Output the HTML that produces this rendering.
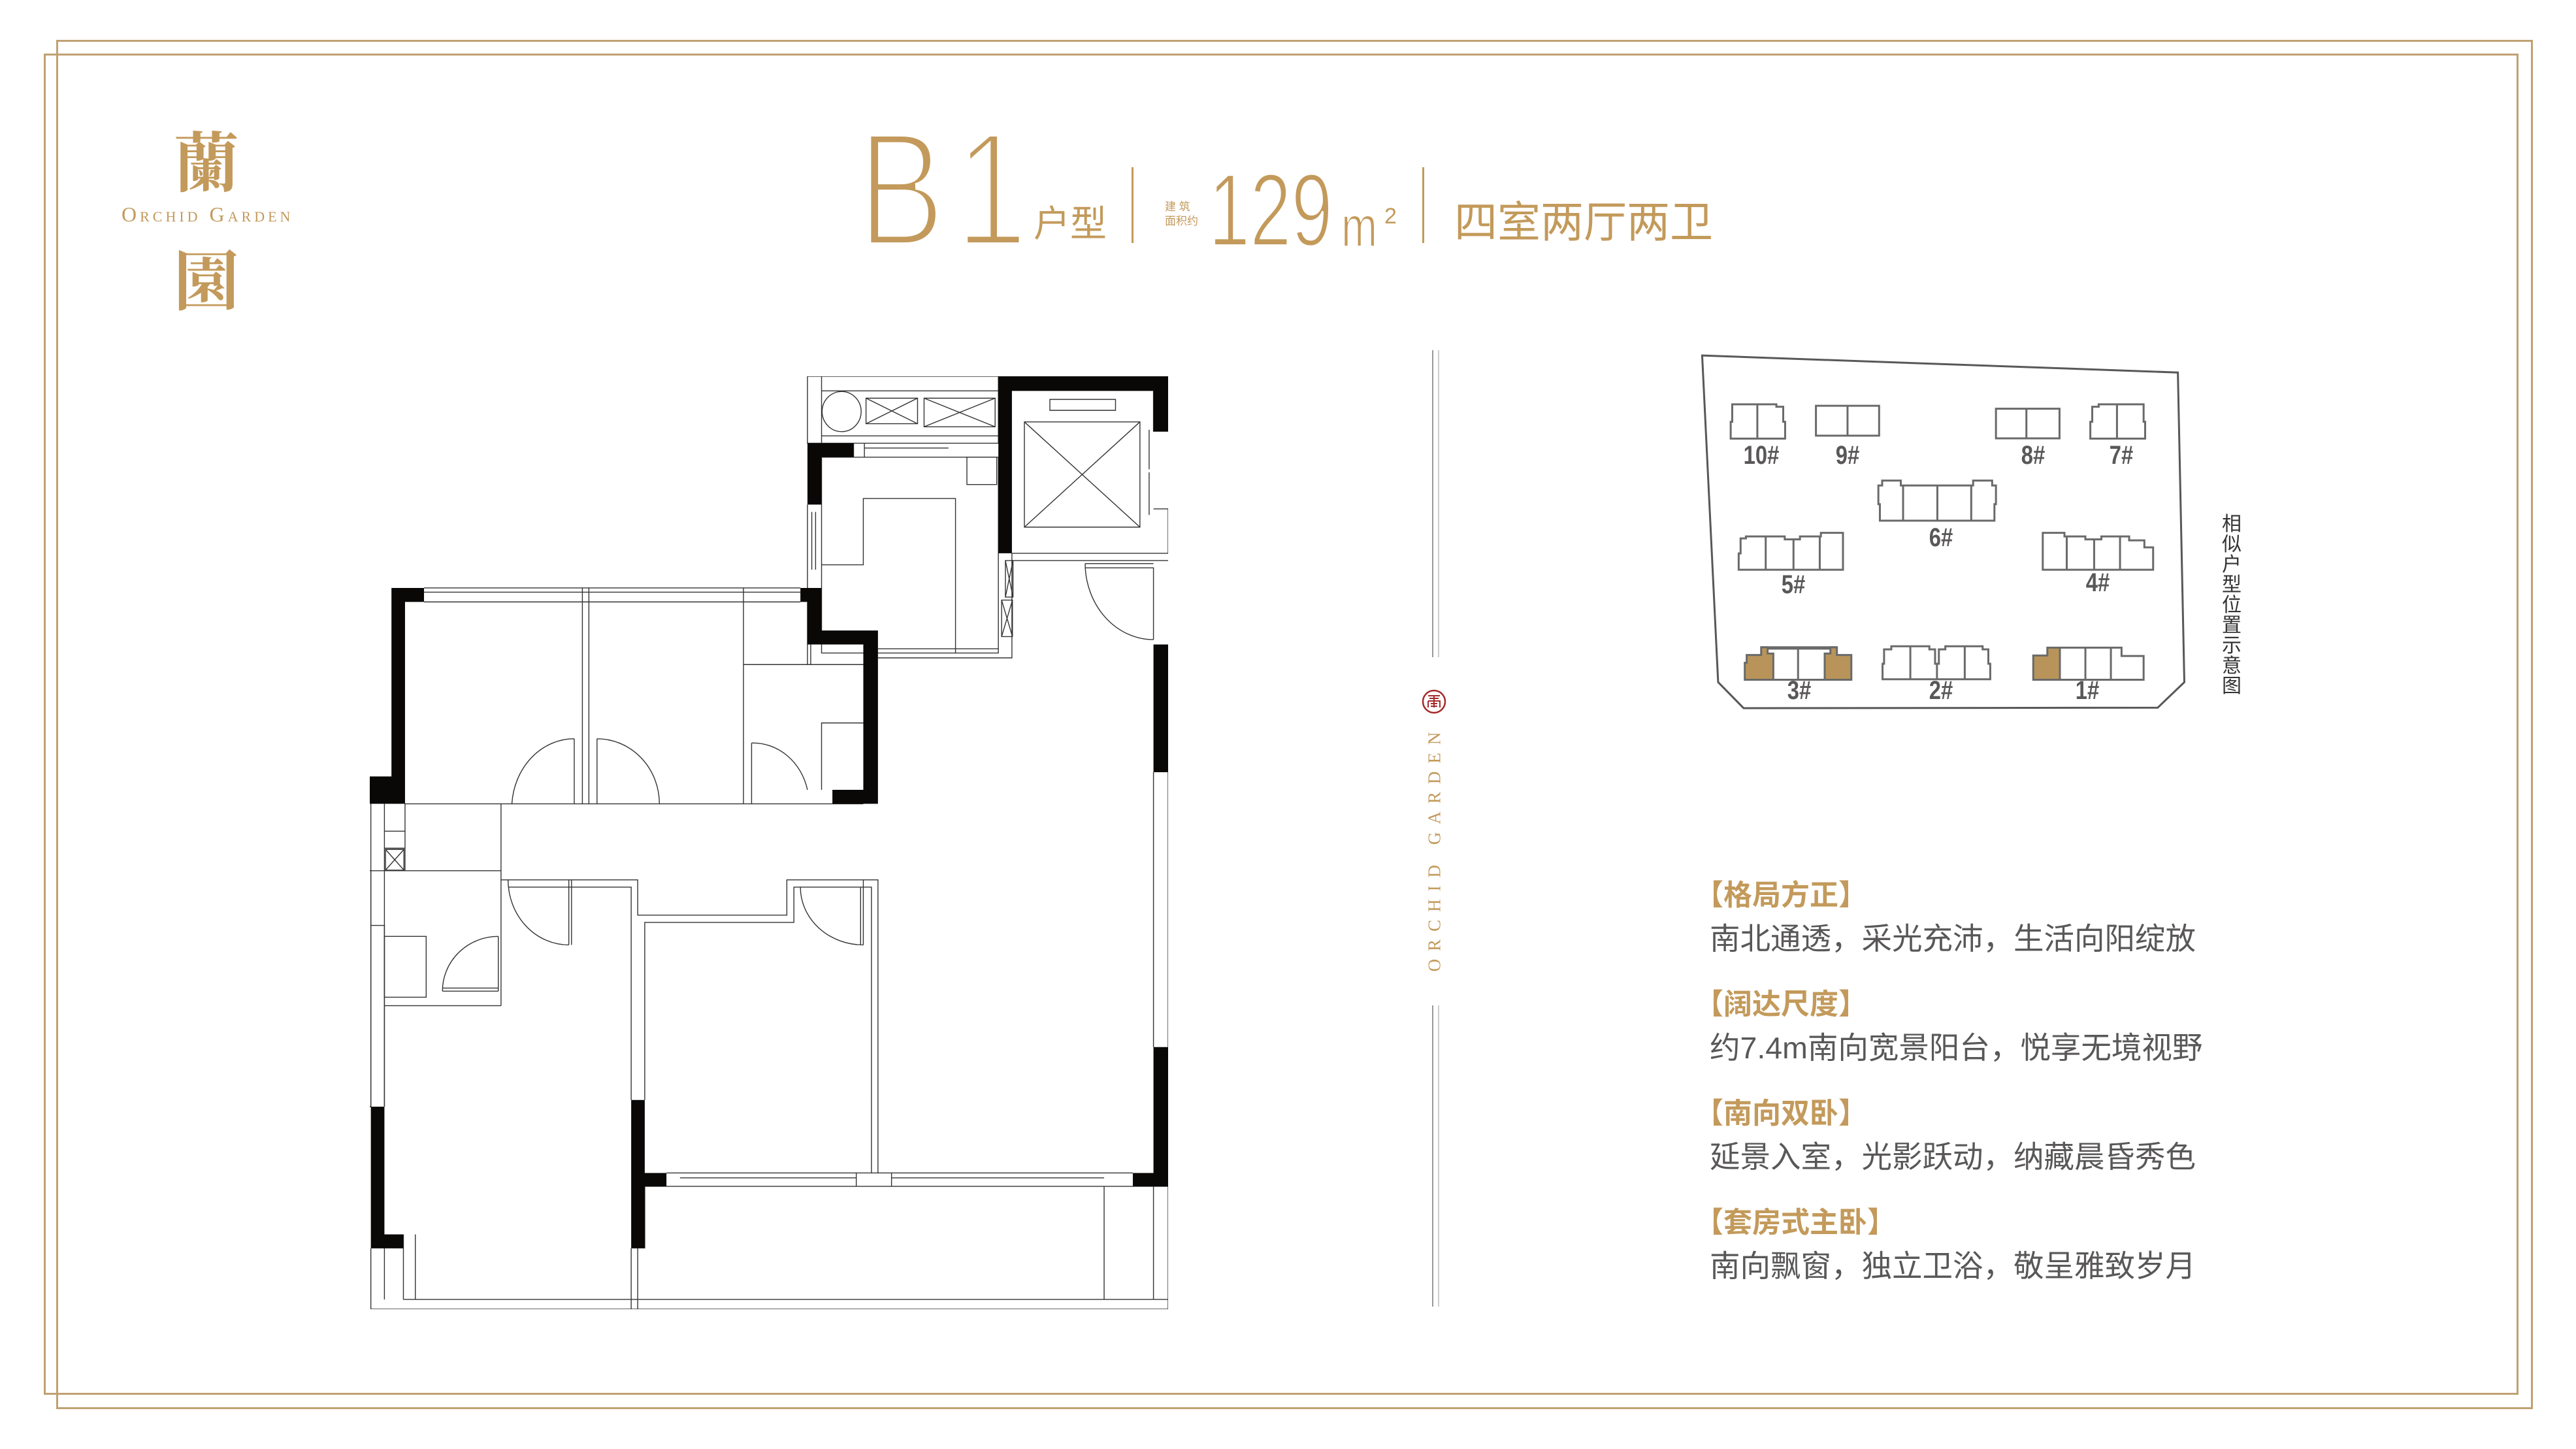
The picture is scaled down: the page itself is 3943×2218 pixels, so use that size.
<!DOCTYPE html>
<html><head><meta charset="utf-8">
<style>
html,body{margin:0;padding:0;background:#fff;}
#p{position:relative;width:3943px;height:2218px;overflow:hidden;background:#fff;font-family:"Liberation Sans","Noto Sans CJK SC",sans-serif;}
.a{position:absolute;white-space:nowrap;line-height:1;}
.g{color:#c39a5b;}
.fr{position:absolute;border:3px solid #c0a172;box-sizing:border-box;}
.h{font-family:"Liberation Sans","Noto Sans CJK SC",sans-serif;font-weight:bold;font-size:44px;color:#c39a5b;}
.b{font-family:"Liberation Sans","Noto Sans CJK SC",sans-serif;font-size:46.5px;color:#595757;}
.lab{position:absolute;font-family:"Liberation Sans",sans-serif;font-weight:bold;font-size:40px;color:#595757;transform:translate(-50%,-50%) scaleX(0.82);line-height:1;}
</style></head><body><div id="p">

<div class="fr" style="left:86px;top:61px;width:3791px;height:2096px;"></div>
<div class="fr" style="left:67px;top:82px;width:3788px;height:2053px;"></div>

<!-- logo -->
<div class="a g" style="left:266px;top:192px;font-family:'Noto Serif CJK SC',serif;font-weight:bold;font-size:100px;">蘭</div>
<div class="a g" style="left:186px;top:312px;font-family:'Liberation Serif',serif;font-size:32px;font-variant:small-caps;letter-spacing:5px;">Orchid Garden</div>
<div class="a g" style="left:266px;top:373px;font-family:'Noto Serif CJK SC',serif;font-weight:bold;font-size:100px;">園</div>

<!-- title -->
<div class="a g" style="left:1313px;top:165px;font-size:250px;transform:scaleX(0.8);transform-origin:0 0;-webkit-text-stroke:10px #fff;paint-order:normal;">B</div>
<div class="a g" style="left:1462px;top:165px;font-size:250px;transform:scaleX(0.8);transform-origin:0 0;-webkit-text-stroke:10px #fff;">1</div>
<div class="a g" style="left:1582px;top:315px;font-size:56px;font-family:'Liberation Sans','Noto Sans CJK SC',sans-serif;">户型</div>
<div style="position:absolute;left:1732px;top:256px;width:3px;height:116px;background:#c39a5b;"></div>
<div class="a g" style="left:1783px;top:306px;font-size:17px;line-height:22px;">建 筑<br>面积约</div>
<div class="a g" style="left:1850px;top:243px;font-size:158px;transform:scaleX(0.72);transform-origin:0 0;-webkit-text-stroke:4px #fff;">129</div>
<div class="a g" style="left:2053px;top:304px;font-size:87px;transform:scaleX(0.76);transform-origin:0 0;-webkit-text-stroke:2px #fff;">m</div>
<div class="a g" style="left:2119px;top:314px;font-size:34px;">2</div>
<div style="position:absolute;left:2177px;top:256px;width:3px;height:116px;background:#c39a5b;"></div>
<div class="a g" style="left:2226px;top:307px;font-size:66px;">四室两厅两卫</div>

<!-- center divider -->
<div style="position:absolute;left:2192px;top:536px;width:2px;height:470px;background:#999;"></div>
<div style="position:absolute;left:2201px;top:536px;width:2px;height:470px;background:#ccc;"></div>
<div style="position:absolute;left:2192px;top:1539px;width:2px;height:461px;background:#999;"></div>
<div style="position:absolute;left:2201px;top:1539px;width:2px;height:461px;background:#ccc;"></div>
<svg style="position:absolute;left:2176px;top:1055px;" width="38" height="38" viewBox="0 0 38 38">
<circle cx="19" cy="19" r="17" fill="none" stroke="#a52a2a" stroke-width="2.5"/>
<path d="M10 10h18M12 14h14M10 18h18v10M10 18v10M14 22h10M14 26h10M19 10v18" stroke="#a52a2a" stroke-width="2" fill="none"/>
</svg>
<div class="a g" style="left:2196px;top:1298px;font-family:'Liberation Serif',serif;font-size:27px;letter-spacing:12px;transform:translate(-50%,-50%) rotate(-90deg);">ORCHID GARDEN</div>

<!-- floor plan -->
<svg style="position:absolute;left:566px;top:576px;" width="1222" height="1428" viewBox="33 42 1472 1534" preserveAspectRatio="none">
<g fill="none" stroke="#333" stroke-width="1.4">
<rect x="840" y="42" width="352" height="110" vector-effect="non-scaling-stroke"/>
<line x1="866" y1="66" x2="1192" y2="66" vector-effect="non-scaling-stroke"/>
<line x1="866" y1="42" x2="866" y2="152" vector-effect="non-scaling-stroke"/>
<line x1="866" y1="140" x2="1192" y2="140" vector-effect="non-scaling-stroke"/>
<ellipse cx="903" cy="100" rx="36" ry="33" vector-effect="non-scaling-stroke"/>
<rect x="948" y="78" width="95" height="42" vector-effect="non-scaling-stroke"/>
<path d="M948 78L1043 120M1043 78L948 120" vector-effect="non-scaling-stroke"/>
<rect x="1055" y="78" width="131" height="47" vector-effect="non-scaling-stroke"/>
<path d="M1055 78L1186 125M1186 78L1055 125" vector-effect="non-scaling-stroke"/>
<rect x="866" y="175" width="326" height="322" vector-effect="non-scaling-stroke"/>
<path d="M925 152V175M945 152V175M945 160H1100M866 352H943V243H1113V497" vector-effect="non-scaling-stroke"/>
<rect x="1134" y="175" width="55" height="45" vector-effect="non-scaling-stroke"/>
<path d="M970 490H1192M970 505H1217V333" vector-effect="non-scaling-stroke"/>
<path d="M840 253V390M848 265V360M855 265V360" vector-effect="non-scaling-stroke"/>
<rect x="1240" y="117" width="213" height="173" vector-effect="non-scaling-stroke"/>
<path d="M1240 117L1453 290M1453 117L1240 290" vector-effect="non-scaling-stroke"/>
<rect x="1287" y="80" width="121" height="18" vector-effect="non-scaling-stroke"/>
<path d="M1470 130V195M1470 200V270M1478 260H1505V333M1217 333H1505M1217 345H1505" vector-effect="non-scaling-stroke"/>
<rect x="1205" y="345" width="14" height="60" vector-effect="non-scaling-stroke"/>
<path d="M1205 345L1219 405M1219 345L1205 405" vector-effect="non-scaling-stroke"/>
<rect x="1198" y="410" width="20" height="60" vector-effect="non-scaling-stroke"/>
<path d="M1198 410L1218 470M1218 410L1198 470" vector-effect="non-scaling-stroke"/>
<path d="M1352 350H1478M1352 357H1478V475M1352 350A126 126 0 0 0 1478 475" vector-effect="non-scaling-stroke"/>
<path d="M133 390H827M133 397H827M133 413H827M425 390V745M437 390V745M722 390V745M98 745H943" vector-effect="non-scaling-stroke"/>
<path d="M410 638V745M295 745A115 115 0 0 1 410 638" vector-effect="non-scaling-stroke"/>
<path d="M452 638V745M567 745A115 107 0 0 0 452 638" vector-effect="non-scaling-stroke"/>
<path d="M737 645V745M840 722A103 100 0 0 0 737 645" vector-effect="non-scaling-stroke"/>
<path d="M722 516H943M866 722V612H943M840 413V516M846 483V516" vector-effect="non-scaling-stroke"/>
<path d="M60 745V1243M98 745V855M60 855H275M60 1077H275M275 745V1077M60 818H98M60 790H98" vector-effect="non-scaling-stroke"/>
<rect x="62" y="820" width="34" height="34" vector-effect="non-scaling-stroke"/>
<path d="M62 820L96 854M96 820L62 854" vector-effect="non-scaling-stroke"/>
<rect x="60" y="963" width="77" height="100" vector-effect="non-scaling-stroke"/>
<path d="M270 963V1053M167 1053H270M167 1048H270M167 1053A103 90 0 0 1 270 963" vector-effect="non-scaling-stroke"/>
<path d="M20 855H60M20 855V1243H35V855M35 945H60V1243M20 1243H35" vector-effect="non-scaling-stroke"/>
<path d="M35 745V1243" vector-effect="non-scaling-stroke"/>
<path d="M275 870H527V928H802V870H970V1352M288 882H515V1232M405 870V977M400 870V977M288 870A112 107 0 0 0 400 977" vector-effect="non-scaling-stroke"/>
<path d="M540 1232V940H815V882H958V1352M827 882A116 95 0 0 0 943 977M943 870V977M938 882V977" vector-effect="non-scaling-stroke"/>
<path d="M580 1352H1440M580 1374H1440M605 1360H930M995 1360H1387M930 1352V1374M995 1352V1374M540 1374H1505M1387 1374V1560M1478 1374V1560M1505 1374V1576" vector-effect="non-scaling-stroke"/>
<path d="M35 1476V1576H1505M95 1560H1505M117 1453V1560M95 1453V1560M60 1476V1560M515 1476V1576M527 1476V1576M540 1374V1476" vector-effect="non-scaling-stroke"/>
<path d="M1478 693V1145M1505 693V1145M1478 66V133" vector-effect="non-scaling-stroke"/>
</g>
<g fill="#0a0707">
<path d="M73 390H133V413H98V745H33V700H73Z"/>
<path d="M35 1243H60V1453H95V1476H35Z"/>
<path d="M515 1232H540V1352H580V1374H540V1476H515Z"/>
<path d="M1440 1352H1478V1145H1505V1374H1440Z"/>
<rect x="1478" y="483" width="27" height="210"/>
<path d="M1192 42H1505V133H1478V66H1217V333H1192Z"/>
<path d="M840 152H925V175H866V253H840Z"/>
<path d="M827 390H866V460H970V745H886V722H943V483H840V413H827Z"/>
</g>
</svg>

<!-- site map -->
<svg style="position:absolute;left:2560px;top:520px;" width="900" height="580" viewBox="0 0 1545 1560" preserveAspectRatio="none">
<g fill="none" stroke="#595757" stroke-width="3">
<path vector-effect="non-scaling-stroke" d="M78 65L1328 135L1345 1410L1275 1515L187 1517L120 1410Z"/>
<g stroke="#6a6a6a">
<path vector-effect="non-scaling-stroke" d="M153 407V338H157V266H273V276H291V338H296V407ZM223 266V407"/>
<path vector-effect="non-scaling-stroke" d="M377 272H543V395H377ZM460 272V395"/>
<path vector-effect="non-scaling-stroke" d="M850 284H1017V406H850ZM930 284V406"/>
<path vector-effect="non-scaling-stroke" d="M1098 407V338H1103V276H1120V266H1238V338H1242V407ZM1168 266V407"/>
<path vector-effect="non-scaling-stroke" d="M545 745V677H541V600H551V580H600V600H790V580H840V600H850V677H846V745ZM606 600V745M696 600V745M785 600V745"/>
<path vector-effect="non-scaling-stroke" d="M174 947V880H179V818H193V810H295V822H335V810H390V795H448V947ZM245 810V947M318 822V947M387 810V947"/>
<path vector-effect="non-scaling-stroke" d="M973 947V795H1030V810H1085V822H1127V810H1200V826H1240V855H1263V947ZM1036 810V947M1108 822V947M1176 810V947"/>
<path vector-effect="non-scaling-stroke" fill="#b9945a" d="M190 1400V1330H195V1298H233V1266H250V1292H265V1400Z"/>
<path vector-effect="non-scaling-stroke" fill="#b9945a" d="M400 1400V1292H415V1266H432V1298H470V1400Z"/>
<path vector-effect="non-scaling-stroke" d="M233 1266H432M250 1272H415M265 1400H400M330 1272V1400"/>
<path vector-effect="non-scaling-stroke" d="M552 1398V1334H556V1275H575V1262H675V1275H690V1334H700V1275H717V1262H815V1275H830V1334H835V1398ZM625 1262V1398M695 1334V1398M768 1262V1398"/>
<path vector-effect="non-scaling-stroke" fill="#b9945a" d="M948 1400V1300H985V1268H1018V1400Z"/>
<path vector-effect="non-scaling-stroke" d="M1018 1268H1180V1302H1238V1400H1018M1085 1268V1400M1152 1268V1400"/>
</g>
</g>
</svg>
<div class="lab" style="left:2696px;top:697px;">10#</div>
<div class="lab" style="left:2828px;top:697px;">9#</div>
<div class="lab" style="left:3112px;top:697px;">8#</div>
<div class="lab" style="left:3247px;top:697px;">7#</div>
<div class="lab" style="left:2971px;top:823px;">6#</div>
<div class="lab" style="left:2745px;top:895px;">5#</div>
<div class="lab" style="left:3211px;top:892px;">4#</div>
<div class="lab" style="left:2754px;top:1057px;">3#</div>
<div class="lab" style="left:2971px;top:1057px;">2#</div>
<div class="lab" style="left:3195px;top:1057px;">1#</div>
<div class="a" style="left:3401px;top:784px;width:32px;font-size:30px;line-height:31px;white-space:normal;color:#333;font-family:'Noto Sans CJK SC',sans-serif;">相似户型位置示意图</div>

<!-- features -->
<div class="a h" style="left:2594px;top:1349px;">【格局方正】</div>
<div class="a b" style="left:2617px;top:1414px;">南北通透，采光充沛，生活向阳绽放</div>
<div class="a h" style="left:2594px;top:1516px;">【阔达尺度】</div>
<div class="a b" style="left:2617px;top:1581px;">约7.4m南向宽景阳台，悦享无境视野</div>
<div class="a h" style="left:2594px;top:1683px;">【南向双卧】</div>
<div class="a b" style="left:2617px;top:1748px;">延景入室，光影跃动，纳藏晨昏秀色</div>
<div class="a h" style="left:2594px;top:1850px;">【套房式主卧】</div>
<div class="a b" style="left:2617px;top:1915px;">南向飘窗，独立卫浴，敬呈雅致岁月</div>

</div></body></html>
